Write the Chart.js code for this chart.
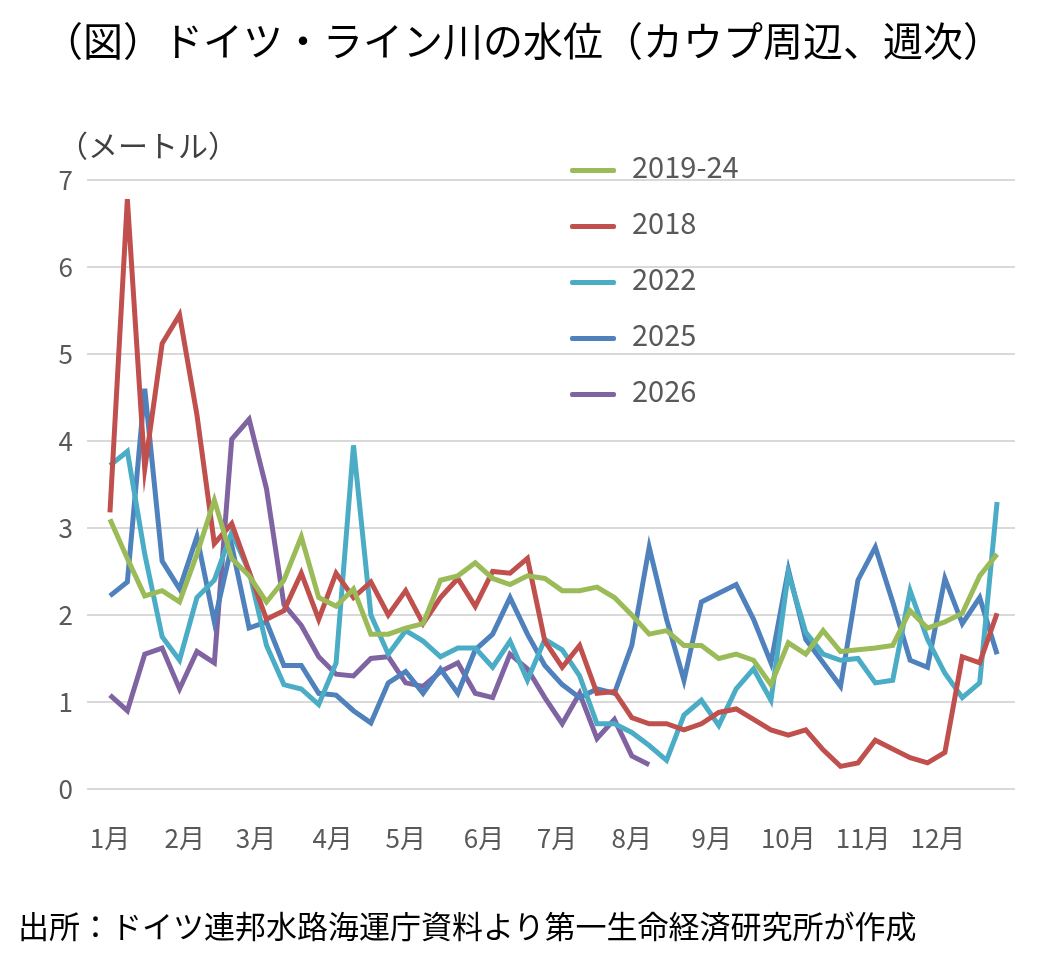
<!DOCTYPE html>
<html><head><meta charset="utf-8">
<script src="https://cdn.jsdelivr.net/npm/chart.js@4"></script>
<style>
body{margin:0;background:#fff;font-family:"Noto Sans CJK JP",sans-serif;}
#wrap{position:relative;width:1046px;height:962px;}
canvas{position:absolute;left:0;top:0;}
.t{position:absolute;white-space:nowrap;color:#000;}
.lg{position:absolute;left:570px;font-size:29px;color:#595959;}
.lg span{display:inline-block;width:46px;height:5px;vertical-align:middle;margin-right:16px;border-radius:2px;}
</style></head><body>
<div id="wrap">
<canvas id="c" width="1046" height="962"></canvas>
<div class="t" style="left:0;width:1046px;text-align:center;top:10px;font-size:40px;">（図）ドイツ・ライン川の水位（カウプ周辺、週次）</div>
<div class="t" style="left:58px;top:122px;font-size:30px;color:#404040;">（メートル）</div>
<div class="t" style="left:18px;top:902px;font-size:31px;">出所：ドイツ連邦水路海運庁資料より第一生命経済研究所が作成</div>
<div id="legend"></div>
</div>
<script>
const monthLabels=["1月","2月","3月","4月","5月","6月","7月","8月","9月","10月","11月","12月"];
const monthPos=[0,4.3,8.4,12.8,17,21.5,25.7,30,34.6,39,43.3,47.6];
const yTicks=[0,1,2,3,4,5,6,7];
const seriesNames=["2019-24","2018","2022","2025","2026"];
const seriesColors=["#9BBB59","#C0504D","#4BACC6","#4F81BD","#8064A2"];
const s201924=[3.1,2.65,2.22,2.28,2.15,2.7,3.32,2.65,2.45,2.15,2.4,2.9,2.2,2.1,2.3,1.78,1.78,1.85,1.9,2.4,2.45,2.6,2.42,2.35,2.45,2.42,2.28,2.28,2.32,2.2,2.0,1.78,1.82,1.65,1.65,1.5,1.55,1.48,1.2,1.68,1.55,1.82,1.58,1.6,1.62,1.65,2.05,1.85,1.92,2.02,2.45,2.7];
const s2018=[3.18,6.78,3.68,5.12,5.45,4.3,2.82,3.05,2.5,1.95,2.05,2.48,1.95,2.48,2.2,2.38,2.0,2.28,1.9,2.2,2.42,2.1,2.5,2.48,2.65,1.7,1.4,1.65,1.1,1.12,0.82,0.75,0.75,0.68,0.75,0.88,0.92,0.8,0.68,0.62,0.68,0.45,0.26,0.3,0.56,0.46,0.36,0.3,0.42,1.52,1.45,2.02];
const s2022=[3.72,3.88,2.7,1.75,1.48,2.2,2.4,2.95,2.5,1.65,1.2,1.15,0.97,1.45,3.95,2.0,1.55,1.82,1.7,1.52,1.62,1.62,1.4,1.7,1.25,1.72,1.6,1.3,0.75,0.75,0.65,0.5,0.33,0.85,1.02,0.73,1.15,1.38,1.02,2.48,1.8,1.55,1.48,1.5,1.22,1.25,2.28,1.72,1.33,1.05,1.22,3.3];
const s2025=[2.22,2.38,4.6,2.62,2.3,2.9,1.92,2.8,1.85,1.92,1.42,1.42,1.1,1.08,0.9,0.76,1.22,1.35,1.1,1.38,1.1,1.6,1.78,2.2,1.78,1.42,1.2,1.05,1.15,1.1,1.65,2.78,1.95,1.25,2.15,2.25,2.35,1.95,1.45,2.52,1.72,1.45,1.18,2.4,2.78,2.15,1.48,1.4,2.42,1.9,2.2,1.55];
const s2026=[1.08,0.9,1.55,1.62,1.15,1.58,1.45,4.02,4.25,3.45,2.12,1.88,1.52,1.32,1.3,1.5,1.52,1.22,1.18,1.35,1.45,1.1,1.05,1.55,1.38,1.05,0.75,1.1,0.58,0.8,0.38,0.28];
const all=[s201924,s2018,s2022,s2025,s2026];
const lg=document.getElementById('legend');
seriesNames.forEach((n,i)=>{const d=document.createElement('div');d.className='lg';d.style.top=(144+i*56)+'px';d.innerHTML='<span style="background:'+seriesColors[i]+'"></span>'+n;lg.appendChild(d);});
const tickFont={family:"'Noto Sans CJK JP'",size:26};
new Chart(document.getElementById('c'),{
 type:'line',
 data:{datasets:all.map((a,i)=>({label:seriesNames[i],data:a.map((v,j)=>({x:j,y:v})),borderColor:seriesColors[i],borderWidth:5,pointRadius:0,tension:0,fill:false}))},
 options:{responsive:false,animation:false,
  layout:{padding:{top:180,right:31,left:0,bottom:0}},
  plugins:{legend:{display:false},tooltip:{enabled:false}},
  scales:{
   x:{type:'linear',min:-0.86,max:52.03,grid:{display:false},border:{display:false},
      afterBuildTicks:s=>{s.ticks=monthPos.map(v=>({value:v}));},
      afterFit:s=>{s.height=173;},
      ticks:{autoSkip:false,maxRotation:0,padding:26,color:'#595959',font:tickFont,
        callback:(v,i)=>monthLabels[i]}},
   y:{min:0,max:7,grid:{color:'#d9d9d9',lineWidth:2},border:{display:false},
      afterBuildTicks:s=>{s.ticks=yTicks.map(v=>({value:v}));},
      afterFit:s=>{s.width=95;},
      ticks:{color:'#595959',font:tickFont,padding:14}}
  }}
});
</script></body></html>
